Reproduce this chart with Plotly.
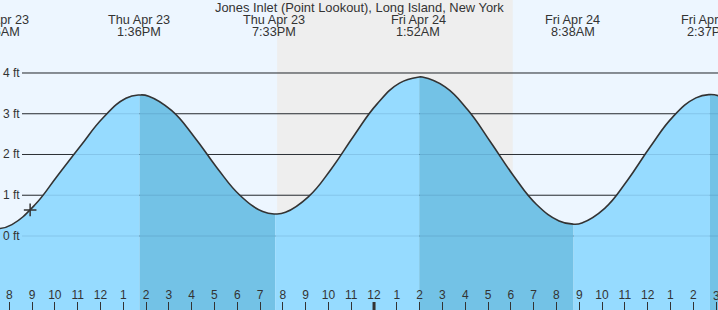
import pandas as pd
import plotly.graph_objects as go

# ---------------- data ----------------
TITLE = "Jones Inlet (Point Lookout), Long Island, New York"

# tide extremes (time, height in ft) as labelled on the chart
extreme_times = ["2026-04-23 07:26", "2026-04-23 13:36", "2026-04-23 19:33",
                 "2026-04-24 01:52", "2026-04-24 08:38", "2026-04-24 14:37"]
extreme_heights = [0.18, 3.46, 0.54, 3.90, 0.29, 3.47]
extreme_day_labels = ["Thu Apr 23", "Thu Apr 23", "Thu Apr 23",
                      "Fri Apr 24", "Fri Apr 24", "Fri Apr 24"]
extreme_time_labels = ["7:26AM", "1:36PM", "7:33PM", "1:52AM", "8:38AM", "2:37PM"]

# hourly tide heights (ft), 7AM Apr 23 .. 3PM Apr 24
hour_times = pd.date_range("2026-04-23 07:00", "2026-04-24 15:00", freq="h")
hour_heights = [0.21, 0.28, 0.76, 1.48, 2.20, 2.90, 3.38, 3.43, 3.08, 2.43,
                1.67, 1.00, 0.60, 0.58, 0.96, 1.64, 2.46, 3.23, 3.75, 3.90,
                3.66, 3.09, 2.30, 1.48, 0.78, 0.37, 0.32, 0.68, 1.37, 2.19,
                2.93, 3.39, 3.44]

# night (sunset -> sunrise)
night_start = "2026-04-23 19:38"
night_end = "2026-04-24 05:58"

# current time marker
now_time = "2026-04-23 08:48"
now_height = 0.64

# x axis ticks: every hour 8AM Apr 23 .. 3PM Apr 24
tick_times = pd.date_range("2026-04-23 08:00", "2026-04-24 15:00", freq="h")
tick_labels = ["8", "9", "10", "11", "12", "1", "2", "3", "4", "5", "6", "7",
               "8", "9", "10", "11", "12", "1", "2", "3", "4", "5", "6", "7",
               "8", "9", "10", "11", "12", "1", "2", "3"]
midnight = "2026-04-24 00:00"

# y gridlines
ft_levels = [0, 1, 2, 3, 4]
ft_labels = ["0 ft", "1 ft", "2 ft", "3 ft", "4 ft"]

# ---------------- style ----------------
W, H = 718, 310
X_RANGE = ["2026-04-23 07:28:41", "2026-04-24 14:58:10"]
Y_RANGE = [-1.816, 5.791]
TICK_SHIFT = pd.Timedelta(minutes=-7)
BG = "#EDF6FF"
NIGHT = "#EEEEEE"
RISE = "#96DBFF"
FALL = "#73C2E6"
INK = "#333333"
FONT = "Liberation Sans, Arial, sans-serif"
GRID_X0 = 22 / W
SMOOTH = 1.3

# ---------------- build ----------------
ext_t = pd.to_datetime(extreme_times)
series = pd.concat([
    pd.DataFrame({"t": hour_times, "h": hour_heights, "ext": False}),
    pd.DataFrame({"t": ext_t, "h": extreme_heights, "ext": True}),
]).sort_values("t").reset_index(drop=True)

fig = go.Figure()

# segment boundaries: first point, every extreme, last point
bounds = [0] + list(series.index[series["ext"]]) + [len(series) - 1]
bounds = sorted(set(bounds))
for a, b in zip(bounds[:-1], bounds[1:]):
    seg = series.iloc[a:b + 1]
    color = RISE if seg["h"].iloc[-1] > seg["h"].iloc[0] else FALL
    fig.add_trace(go.Scatter(x=[seg["t"].iloc[0], seg["t"].iloc[-1]],
                             y=[Y_RANGE[0], Y_RANGE[0]], mode="lines",
                             line=dict(width=0), hoverinfo="skip"))
    fig.add_trace(go.Scatter(x=seg["t"], y=seg["h"], mode="lines",
                             line=dict(width=0, shape="spline", smoothing=SMOOTH),
                             fill="tonexty", fillcolor=color, hoverinfo="skip"))

fig.add_trace(go.Scatter(x=series["t"], y=series["h"], mode="lines",
                         line=dict(color=INK, width=1.6, shape="spline",
                                   smoothing=SMOOTH)))

fig.add_trace(go.Scatter(x=[pd.Timestamp(now_time)], y=[now_height], mode="markers",
                         marker=dict(symbol="cross-thin", size=9,
                                     line=dict(color=INK, width=1.5))))

shapes = [dict(type="rect", xref="x", yref="paper", x0=night_start, x1=night_end,
               y0=0, y1=1, fillcolor=NIGHT, line=dict(width=0), layer="below")]
for v in ft_levels:
    shapes.append(dict(type="line", xref="paper", yref="y", x0=GRID_X0, x1=1,
                       y0=v, y1=v, line=dict(color=INK, width=1), layer="below"))
    shapes.append(dict(type="line", xref="paper", yref="y", x0=GRID_X0, x1=1,
                       y0=v, y1=v, line=dict(color="rgba(0,40,80,0.12)", width=1),
                       layer="above"))
shapes.append(dict(type="line", xref="x", yref="paper",
                   x0=pd.Timestamp(midnight) + TICK_SHIFT,
                   x1=pd.Timestamp(midnight) + TICK_SHIFT,
                   y0=0, y1=8 / H, line=dict(color=INK, width=3), layer="above"))

x0r, x1r = pd.Timestamp(X_RANGE[0]), pd.Timestamp(X_RANGE[1])
span = (x1r - x0r).total_seconds()

annotations = [dict(text=TITLE, xref="paper", yref="paper", x=0.5, y=1 - 7.5 / H,
                    xanchor="center", yanchor="middle", showarrow=False,
                    font=dict(family=FONT, size=12.9, color=INK))]
for t, d, tl in zip(ext_t, extreme_day_labels, extreme_time_labels):
    px = (t - x0r).total_seconds() / span
    for txt, ypx in ((d, 19.8), (tl, 31.7)):
        annotations.append(dict(text=txt, xref="paper", yref="paper", x=px,
                                y=1 - ypx / H, xanchor="center", yanchor="middle",
                                xshift=-1, showarrow=False, borderpad=0,
                                font=dict(family=FONT, size=12.7, color=INK)))
for v, lab in zip(ft_levels, ft_labels):
    annotations.append(dict(text=lab, xref="paper", yref="y", x=0, y=v,
                            xanchor="left", yanchor="middle", xshift=1,
                            showarrow=False,
                            font=dict(family=FONT, size=12, color=INK)))
# last hour label sits on the right edge: plotly hides it, so draw it as text
last_tick = tick_times[-1] + TICK_SHIFT
annotations.append(dict(text=tick_labels[-1], xref="x", yref="paper", x=last_tick,
                        y=1 - 296 / H, xanchor="center", yanchor="middle",
                        showarrow=False, borderpad=0,
                        font=dict(family=FONT, size=12, color=INK)))

fig.update_layout(
    width=W, height=H, margin=dict(l=0, r=0, t=0, b=0),
    paper_bgcolor=BG, plot_bgcolor=BG, showlegend=False,
    shapes=shapes, annotations=annotations,
    xaxis=dict(range=X_RANGE, tickvals=tick_times + TICK_SHIFT, ticktext=tick_labels,
               ticks="inside", ticklen=8, tickwidth=1, tickcolor=INK,
               ticklabelposition="inside", showgrid=False, zeroline=False,
               showline=False, tickfont=dict(family=FONT, size=12, color=INK)),
    yaxis=dict(range=Y_RANGE, visible=False, showgrid=False, zeroline=False),
)

fig.write_html("out.html")
